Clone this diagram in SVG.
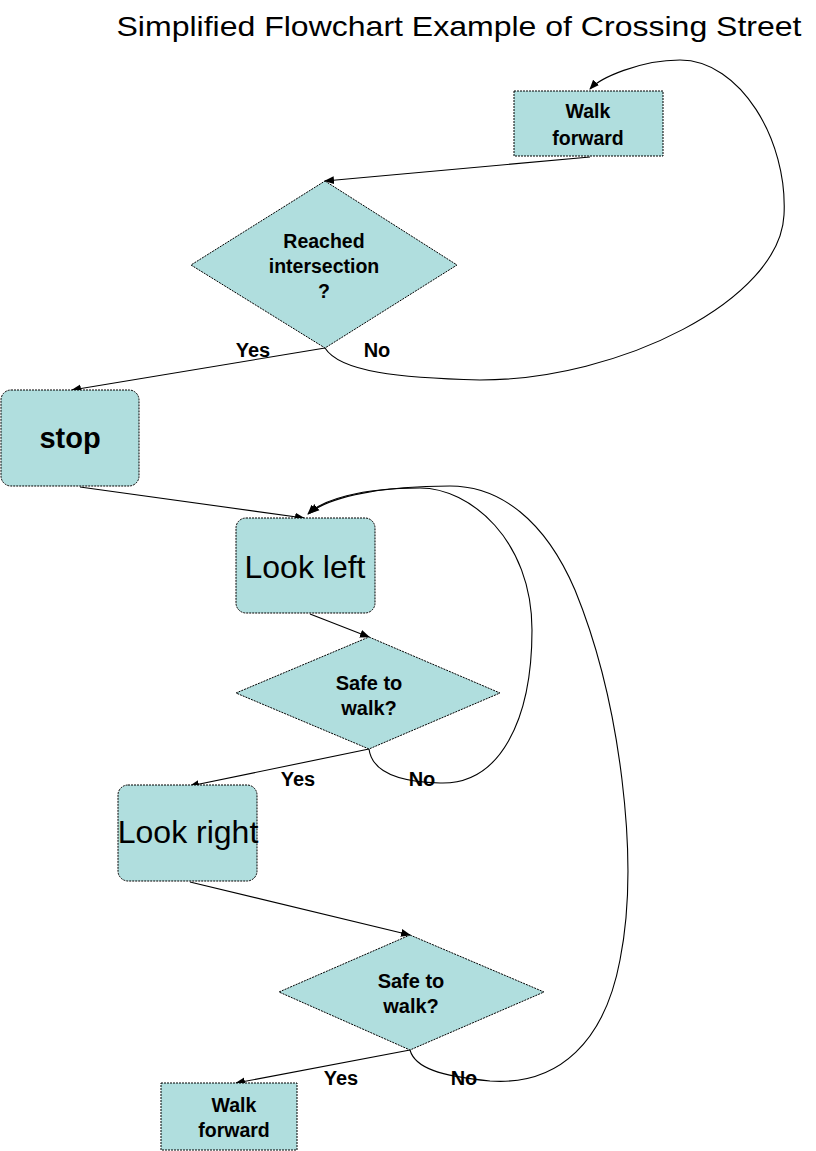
<svg xmlns="http://www.w3.org/2000/svg" width="816" height="1151" viewBox="0 0 816 1151">
<defs>
<marker id="arr" viewBox="0 0 10 10" refX="9" refY="5" markerWidth="10" markerHeight="10" markerUnits="userSpaceOnUse" orient="auto">
<path d="M0,1 L10,5 L0,9 z" fill="#000"/>
</marker>
</defs>
<style>
.node{fill:#b0dede;stroke:#000;stroke-width:1;stroke-dasharray:2 1}
.conn{fill:none;stroke:#000;stroke-width:1.1;marker-end:url(#arr)}
.t{font-family:"Liberation Sans",Arial,sans-serif;fill:#000;text-anchor:middle}
.sm{font-size:19.5px;font-weight:bold}
.dm{font-size:20px;font-weight:bold}
.big{font-size:32px}
.lbl{font-size:20px;font-weight:bold}
</style>
<rect width="816" height="1151" fill="#fff"/>
<text class="t" x="459" y="36" font-size="28" textLength="685" lengthAdjust="spacingAndGlyphs">Simplified Flowchart Example of Crossing Street</text>
<g id="connectors">
<path class="conn" d="M590,157 L325,181"/>
<path class="conn" d="M325,348 L72,390"/>
<path class="conn" d="M325,348 C340,372 400,378 480,380 C620,380 780,300 784,215 C788,140 740,60 680,60 C640,60 600,78 590,89"/>
<path class="conn" d="M80,487 L304,518"/>
<path class="conn" d="M310,614 L369,637"/>
<path class="conn" d="M369,749 L190,786"/>
<path class="conn" d="M369,749 C372,772 400,782 440,783 C500,785 532,720 532,630 C532,540 470,488 420,488 C360,488 322,500 308,514"/>
<path class="conn" d="M190,882 L410,935"/>
<path class="conn" d="M410,1050 L236,1083"/>
<path class="conn" d="M410,1050 C415,1068 440,1076 490,1081 C560,1086 605,1040 620,960 C640,860 620,700 575,590 C545,520 500,486 450,486 C385,486 330,496 310,513"/>
</g>
<g id="walk1">
<rect class="node" x="514" y="91" width="149" height="65"/>
<text class="t sm" x="588" y="118">Walk</text>
<text class="t sm" x="588" y="145">forward</text>
</g>
<g id="reached">
<polygon class="node" points="325,181 457,265 325,348 191,265"/>
<text class="t sm" x="324" y="248">Reached</text>
<text class="t sm" x="324" y="273">intersection</text>
<text class="t sm" x="324" y="298">?</text>
</g>
<g id="stop">
<rect class="node" x="1" y="390" width="138" height="96" rx="10"/>
<text class="t" x="70" y="448" font-size="29" font-weight="bold">stop</text>
</g>
<g id="lookleft">
<rect class="node" x="236" y="518" width="139" height="95" rx="10"/>
<text class="t big" x="305" y="578">Look left</text>
</g>
<g id="safe1">
<polygon class="node" points="369,637 500,693 369,749 236,693"/>
<text class="t dm" x="369" y="690">Safe to</text>
<text class="t dm" x="369" y="715">walk?</text>
</g>
<g id="lookright">
<rect class="node" x="118" y="785" width="139" height="96" rx="10"/>
<text class="t big" x="188" y="843">Look right</text>
</g>
<g id="safe2">
<polygon class="node" points="410,935 544,992 410,1050 279,992"/>
<text class="t dm" x="411" y="988">Safe to</text>
<text class="t dm" x="411" y="1013">walk?</text>
</g>
<g id="walk2">
<rect class="node" x="161" y="1083" width="136" height="67"/>
<text class="t sm" x="234" y="1112">Walk</text>
<text class="t sm" x="234" y="1137">forward</text>
</g>
<g id="labels">
<text class="t lbl" x="253" y="357">Yes</text>
<text class="t lbl" x="377" y="357">No</text>
<text class="t lbl" x="298" y="786">Yes</text>
<text class="t lbl" x="422" y="786">No</text>
<text class="t lbl" x="341" y="1085">Yes</text>
<text class="t lbl" x="464" y="1085">No</text>
</g>
</svg>
